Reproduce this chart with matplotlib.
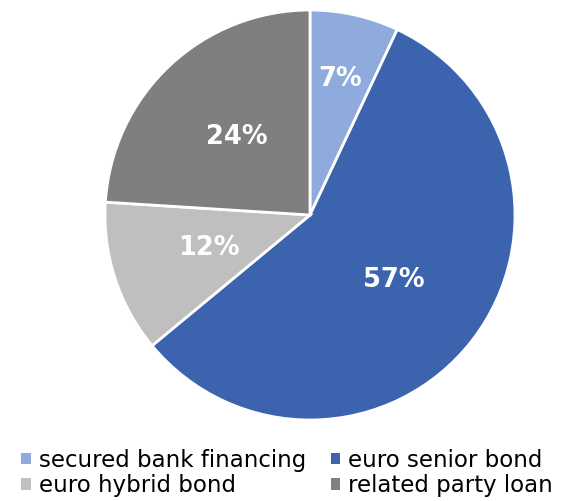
import numpy as np
import matplotlib
matplotlib.use("Agg")
import matplotlib.pyplot as plt
from matplotlib.patches import Patch

labels = ["secured bank financing", "euro senior bond", "euro hybrid bond", "related party loan"]
shares = [7, 57, 12, 24]
colors = ["#8faadc", "#3c63ae", "#bfbfbf", "#7f7f7f"]
label_r = [0.68, 0.52, 0.52, 0.52]

plt.rcParams["font.family"] = ["DejaVu Sans"]

fig = plt.figure(figsize=(5.63, 5.01), dpi=100)
ax = fig.add_axes([105 / 563, 81 / 501, 410 / 563, 410 / 501])

wedges, _ = ax.pie(shares, colors=colors, startangle=90, counterclock=False,
                   radius=1.0, wedgeprops=dict(edgecolor="white", linewidth=2))
ax.set_xlim(-1, 1)
ax.set_ylim(-1, 1)

for w, v, r in zip(wedges, shares, label_r):
    mid = np.deg2rad((w.theta1 + w.theta2) / 2)
    ax.text(r * np.cos(mid), r * np.sin(mid), f"{v}%", ha="center", va="center",
            color="white", fontsize=18.5, fontweight="bold")

# legend fills row by row in the reference
order = [0, 2, 1, 3]
handles = [Patch(facecolor=colors[i], edgecolor="none") for i in order]
fig.legend(handles, [labels[i] for i in order], loc="lower center",
           bbox_to_anchor=(0.51, -0.033), ncol=2, frameon=False, fontsize=16.5,
           handlelength=0.4, handleheight=0.4, handletextpad=0.35,
           columnspacing=1.1, labelspacing=0.1)

fig.savefig("out.png", dpi=100)
